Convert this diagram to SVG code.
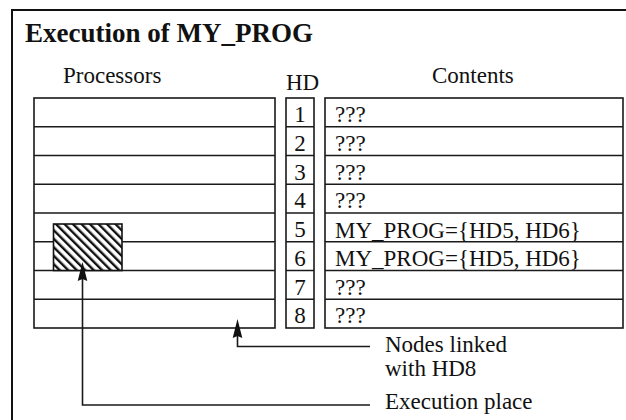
<svg xmlns="http://www.w3.org/2000/svg" width="626" height="420" viewBox="0 0 626 420">
  <style>
    .ln { fill: none; stroke: #1a1a1a; stroke-width: 1.6; }
    .frame { fill: none; stroke: #111; stroke-width: 2; }
    .head { fill: #111; stroke: none; }
    .t { font-family: "Liberation Serif", "Times New Roman", serif; font-size: 23px; fill: #111; }
    .title { font-family: "Liberation Serif", "Times New Roman", serif; font-size: 27px; font-weight: bold; fill: #111; }
    .num { text-anchor: middle; }
  </style>
  <defs>
    <pattern id="hatch" patternUnits="userSpaceOnUse" width="6" height="6" patternTransform="rotate(-45)">
      <rect x="0" y="0" width="6" height="6" fill="#fff"/>
      <rect x="0" y="0" width="2.4" height="6" fill="#111"/>
    </pattern>
    <!-- upward arrowhead, tip at the origin -->
    <path id="up-head" d="M0,0 L4.8,19 L0,17 L-4.8,19 Z"/>
  </defs>

  <rect width="626" height="420" fill="#fff"/>

  <!-- outer frame: left and top edges -->
  <path class="frame" d="M12,420 V10 H626"/>

  <text class="title" x="25" y="42">Execution of MY_PROG</text>

  <!-- column headings -->
  <text class="t" x="63" y="83">Processors</text>
  <text class="t" x="286" y="90">HD</text>
  <text class="t" x="432" y="83">Contents</text>

  <!-- processor grid -->
  <g id="processors">
    <rect class="ln" x="34" y="98" width="241" height="230"/>
    <path class="ln" d="M34,126.75 H275 M34,155.5 H275 M34,184.25 H275 M34,213 H275 M34,241.75 H275 M34,270.5 H275 M34,299.25 H275"/>
  </g>

  <!-- execution place of MY_PROG -->
  <g id="exec-area">
    <rect x="53.5" y="224" width="68.5" height="46.5" fill="url(#hatch)" stroke="#111" stroke-width="1.6"/>
  </g>

  <!-- HD column -->
  <g id="hd">
    <rect class="ln" x="286" y="98" width="28" height="230"/>
    <path class="ln" d="M286,126.75 H314 M286,155.5 H314 M286,184.25 H314 M286,213 H314 M286,241.75 H314 M286,270.5 H314 M286,299.25 H314"/>
    <text class="t num" x="300" y="122">1</text>
    <text class="t num" x="300" y="150.75">2</text>
    <text class="t num" x="300" y="179.5">3</text>
    <text class="t num" x="300" y="208.25">4</text>
    <text class="t num" x="300" y="237">5</text>
    <text class="t num" x="300" y="265.75">6</text>
    <text class="t num" x="300" y="294.5">7</text>
    <text class="t num" x="300" y="323.25">8</text>
  </g>

  <!-- contents column -->
  <g id="contents">
    <rect class="ln" x="325" y="98" width="298" height="230"/>
    <path class="ln" d="M325,126.75 H623 M325,155.5 H623 M325,184.25 H623 M325,213 H623 M325,241.75 H623 M325,270.5 H623 M325,299.25 H623"/>
    <text class="t" x="335" y="122">???</text>
    <text class="t" x="335" y="150.75">???</text>
    <text class="t" x="335" y="179.5">???</text>
    <text class="t" x="335" y="208.25">???</text>
    <text class="t" x="335" y="237.5">MY_PROG={HD5, HD6}</text>
    <text class="t" x="335" y="266.25">MY_PROG={HD5, HD6}</text>
    <text class="t" x="335" y="294.5">???</text>
    <text class="t" x="335" y="323.25">???</text>
  </g>

  <!-- connectors -->
  <g id="connectors">
    <path class="ln" d="M370,346.5 H237.5 V330"/>
    <use href="#up-head" class="head" x="237.5" y="319"/>
    <path class="ln" d="M370,405 H82.5 V273"/>
    <use href="#up-head" class="head" x="82.5" y="262"/>
  </g>

  <g id="labels">
    <text class="t" x="385" y="351.5">Nodes linked</text>
    <text class="t" x="385" y="376">with HD8</text>
    <text class="t" x="385" y="409">Execution place</text>
  </g>
</svg>
